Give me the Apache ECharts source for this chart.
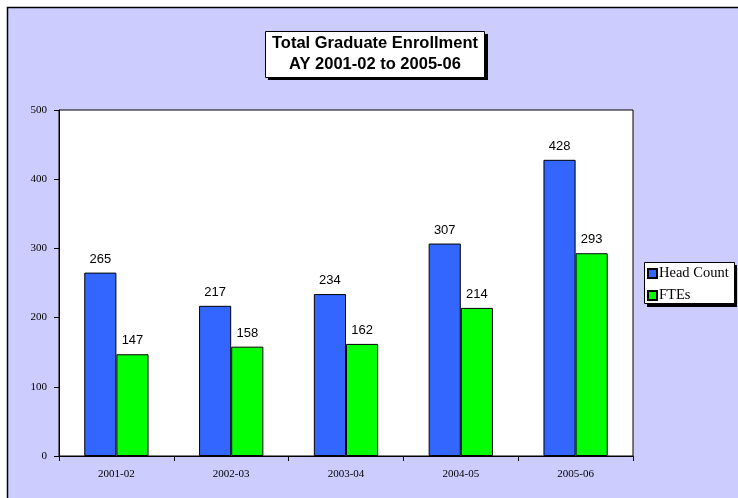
<!DOCTYPE html>
<html><head><meta charset="utf-8">
<script src="https://cdn.jsdelivr.net/npm/echarts@6/dist/echarts.min.js"></script>
<style>html,body{margin:0;padding:0;background:#fff}#c{width:738px;height:498px}</style>
</head><body><div id="c"></div>
<script>
const categories = ['2001-02','2002-03','2003-04','2004-05','2005-06'];
const headCount = [265, 217, 234, 307, 428];
const ftes = [147, 158, 162, 214, 293];
const seriesNames = ['Head Count', 'FTEs'];
const titleLines = ['Total Graduate Enrollment', 'AY 2001-02 to 2005-06'];

const chart = echarts.init(document.getElementById('c'));
const labelStyle = {show: true, position: 'top', distance: 7, fontFamily: 'Liberation Sans, Arial', fontSize: 13, color: '#000'};
chart.setOption({
  animation: false,
  backgroundColor: '#fff',
  graphic: [
    {type: 'rect', z: -10, shape: {x: 7.5, y: 7.5, width: 740, height: 500}, style: {fill: '#CCCCFF', stroke: '#000', lineWidth: 1.5}},
    {type: 'rect', z: 5, shape: {x: 268, y: 34, width: 220, height: 46}, style: {fill: '#000'}},
    {type: 'rect', z: 6, shape: {x: 265.5, y: 31.5, width: 219, height: 46}, style: {fill: '#fff', stroke: '#000', lineWidth: 1}},
    {type: 'text', z: 7, x: 375, y: 43.5, style: {text: titleLines[0], fontFamily: 'Liberation Sans, Arial', fontWeight: 'bold', fontSize: 16.5, fill: '#000', align: 'center', verticalAlign: 'middle'}},
    {type: 'text', z: 7, x: 375, y: 64.5, style: {text: titleLines[1], fontFamily: 'Liberation Sans, Arial', fontWeight: 'bold', fontSize: 16.5, fill: '#000', align: 'center', verticalAlign: 'middle'}},
    {type: 'rect', z: 5, shape: {x: 647, y: 265, width: 90, height: 42}, style: {fill: '#000'}},
    {type: 'rect', z: 6, shape: {x: 644.5, y: 262.5, width: 90, height: 41}, style: {fill: '#fff', stroke: '#000', lineWidth: 1}}
  ],
  legend: {
    orient: 'vertical', left: 647, top: 266, z: 8,
    padding: 0, itemGap: 7, itemWidth: 9, itemHeight: 9, icon: 'rect',
    textStyle: {fontFamily: 'Liberation Serif, Times New Roman', fontSize: 14.5, color: '#000', padding: [0, 0, 0, -3]},
    data: seriesNames
  },
  grid: {left: 59, right: 105, top: 110, bottom: 42, show: true, backgroundColor: '#fff', borderColor: '#000', borderWidth: 1},
  xAxis: {
    type: 'category', data: categories,
    axisLine: {lineStyle: {color: '#000', width: 1}},
    axisTick: {show: true, length: 5, inside: false, lineStyle: {color: '#000'}},
    axisLabel: {fontFamily: 'Liberation Serif, Times New Roman', fontSize: 11, color: '#000', margin: 13}
  },
  yAxis: {
    type: 'value', min: 0, max: 500, interval: 100,
    axisLine: {show: true, lineStyle: {color: '#000', width: 1}},
    axisTick: {show: true, length: 5, lineStyle: {color: '#000'}},
    splitLine: {show: false},
    axisLabel: {fontFamily: 'Liberation Serif, Times New Roman', fontSize: 11, color: '#000', margin: 12}
  },
  series: [
    {name: seriesNames[0], type: 'bar', data: headCount, barWidth: '28%', barGap: '0%', barCategoryGap: '43%',
     itemStyle: {color: '#3366FF', borderColor: '#000', borderWidth: 1}, label: labelStyle},
    {name: seriesNames[1], type: 'bar', data: ftes, barWidth: '28%', barGap: '0%',
     itemStyle: {color: '#00FF00', borderColor: '#000', borderWidth: 1}, label: labelStyle}
  ]
});
</script></body></html>
